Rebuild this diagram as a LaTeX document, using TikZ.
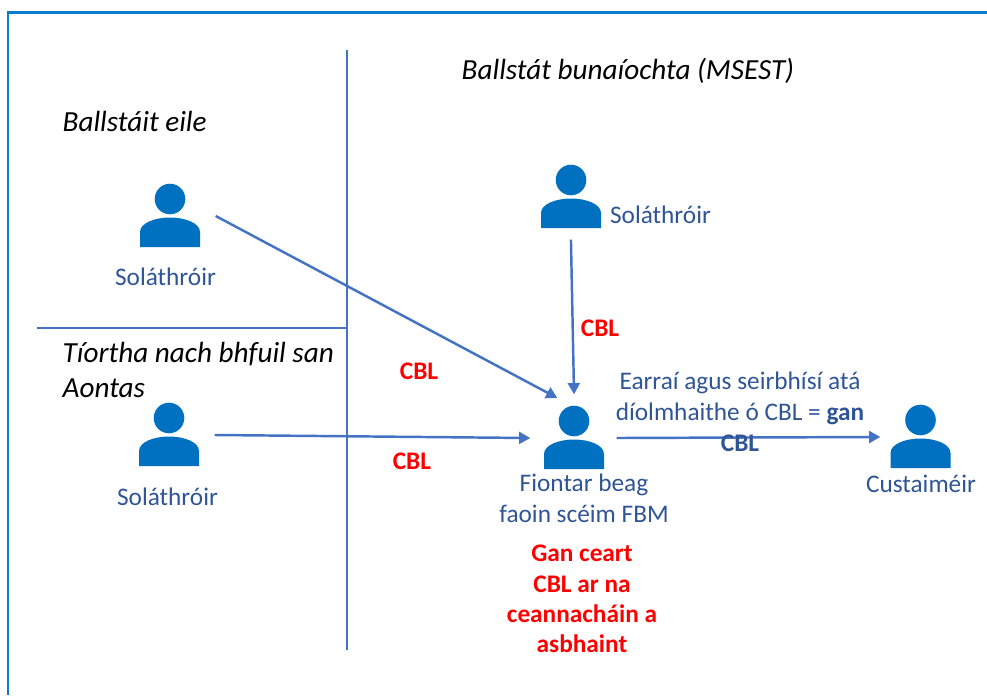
\documentclass[tikz,border=0pt]{standalone}
\usepackage{fontspec}
\setmainfont{Carlito}
\usepackage{xcolor}
\definecolor{frameblue}{HTML}{0A7CD0}
\definecolor{lineblue}{HTML}{4472C4}
\definecolor{iconblue}{HTML}{0070C0}
\definecolor{textblue}{HTML}{2F5597}
\definecolor{cblred}{HTML}{FF0000}
\usetikzlibrary{arrows.meta}
\tikzset{
  person/.style={circle, minimum size=0.9cm, inner sep=0pt, path picture={
    \begin{scope}[shift={(path picture bounding box.center)}]
      \fill[iconblue] (0,0.17) circle (0.153);
      \fill[iconblue] (-0.30,-0.31) -- (-0.30,-0.16)
        .. controls (-0.30,-0.07) and (-0.15,-0.015) .. (0,-0.015)
        .. controls (0.15,-0.015) and (0.30,-0.07) .. (0.30,-0.16)
        -- (0.30,-0.31) -- cycle;
    \end{scope}}},
  flow/.style={draw=lineblue, line width=0.7pt, -{Triangle[length=3.2pt, width=3.4pt]}},
  divider/.style={draw=lineblue, line width=0.35pt},
  region/.style={font=\fontsize{8.3}{9.7}\selectfont\itshape, text=black, align=left, anchor=west, inner sep=0pt},
  role/.style={font=\fontsize{7.2}{8.8}\selectfont, text=textblue, align=center, inner sep=0pt},
  cbl/.style={font=\fontsize{7.2}{8.6}\selectfont\bfseries, text=cblred, align=center, inner sep=0pt}
}
\begin{document}
\begin{tikzpicture}
  \useasboundingbox (0,0) rectangle (9.87,6.95);

  % Frame, open on the right and at the bottom
  \draw[frameblue, line width=0.6pt] (0.08,0) -- (0.08,6.825) -- (9.87,6.825);

  % Regions
  \coordinate (vtop) at (3.47,6.45);
  \coordinate (vbot) at (3.47,0.45);
  \coordinate (hleft) at (0.37,3.67);
  \coordinate (hright) at (3.47,3.67);
  \draw[divider] (vtop) -- (vbot);
  \draw[divider] (hleft) -- (hright);

  \node[region] (home) at (4.61,6.24) {Ballstát bunaíochta (MSEST)};
  \node[region] (other) at (0.62,5.74) {Ballstáit eile};
  \node[region] (third) at (0.62,3.25) {Tíortha nach bhfuil san\\Aontas};

  % People
  \node[person] (sup1) at (1.70,4.79) {};
  \node[person] (sup2) at (5.71,4.98) {};
  \node[person] (sup3) at (1.69,2.60) {};
  \node[person] (smb) at (5.74,2.57) {};
  \node[person] (cust) at (9.205,2.58) {};

  \node[role] (sup1txt) at (1.655,4.18) {Soláthróir};
  \node[role] (sup2txt) at (6.605,4.80) {Soláthróir};
  \node[role] (sup3txt) at (1.675,1.98) {Soláthróir};
  \node[role] (smbtxt) at (5.84,1.97) {Fiontar beag\\faoin scéim FBM};
  \node[role] (custtxt) at (9.21,2.11) {Custaiméir};

  % Supplies
  \draw[flow, shorten >=-0.03cm] (sup1.east) -- (smb.115);
  \draw[flow, shorten <=-0.03cm, shorten >=-0.02cm] (sup2.south) -- (smb.north);
  \draw[flow, shorten >=-0.02cm] (sup3.east) -- (smb.west);
  \draw[flow, shorten <=-0.03cm, shorten >=-0.055cm] (smb.east) -- (cust.west);

  \node[cbl] (cbl1) at (4.19,3.24) {CBL};
  \node[cbl] (cbl2) at (6.00,3.67) {CBL};
  \node[cbl] (cbl3) at (4.12,2.34) {CBL};
  \node[role] (goods) at (7.40,2.83) {Earraí agus seirbhísí atá\\díolmhaithe ó CBL = \textbf{gan}\\\textbf{CBL}};

  % Right to deduct
  \node[cbl] (noright) at (5.82,0.96) {Gan ceart\\CBL ar na\\ceannacháin a\\asbhaint};
\end{tikzpicture}
\end{document}
